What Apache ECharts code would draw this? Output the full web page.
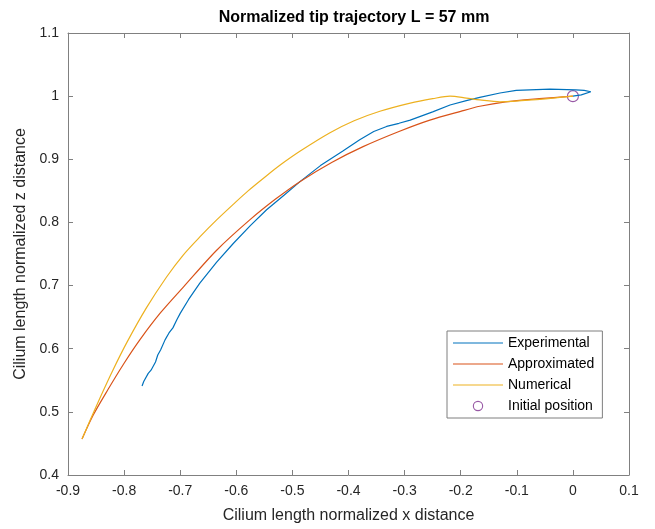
<!DOCTYPE html>
<html>
<head>
<meta charset="utf-8">
<script src="https://cdn.jsdelivr.net/npm/echarts@6/dist/echarts.min.js"></script>
<style>
  html, body { margin: 0; padding: 0; background: #fff; }
  #chart { width: 655px; height: 529px; }
</style>
</head>
<body>
<div id="chart"></div>
<script>
// values, [x, z]
const experimental = [
  [-0.768, 0.541], [-0.765, 0.548], [-0.757, 0.561], [-0.752, 0.566], [-0.744, 0.579],
  [-0.740, 0.590], [-0.735, 0.598], [-0.727, 0.614], [-0.720, 0.625], [-0.713, 0.633],
  [-0.706, 0.646], [-0.700, 0.656], [-0.685, 0.678], [-0.665, 0.704], [-0.635, 0.737],
  [-0.605, 0.767], [-0.575, 0.795], [-0.546, 0.820], [-0.515, 0.843], [-0.486, 0.865],
  [-0.450, 0.890], [-0.410, 0.913], [-0.380, 0.931], [-0.355, 0.944], [-0.332, 0.952],
  [-0.310, 0.957], [-0.290, 0.962], [-0.250, 0.975], [-0.219, 0.986], [-0.190, 0.993],
  [-0.166, 0.998], [-0.130, 1.005], [-0.101, 1.009], [-0.041, 1.011], [0.005, 1.010],
  [0.020, 1.009], [0.032, 1.007], [0.015, 1.002], [0.000, 1.000]
];
const approximated = [
  [-0.875, 0.457], [-0.855, 0.495], [-0.829, 0.535], [-0.800, 0.577], [-0.772, 0.614],
  [-0.735, 0.657], [-0.694, 0.698], [-0.635, 0.756], [-0.576, 0.804], [-0.530, 0.837],
  [-0.486, 0.865], [-0.430, 0.895], [-0.374, 0.920], [-0.310, 0.944], [-0.255, 0.962],
  [-0.200, 0.976], [-0.166, 0.984], [-0.120, 0.991], [-0.060, 0.996], [0.000, 1.000]
];
const numerical = [
  [-0.875, 0.457], [-0.860, 0.488], [-0.841, 0.526], [-0.820, 0.566], [-0.795, 0.610],
  [-0.760, 0.665], [-0.724, 0.714], [-0.695, 0.748], [-0.665, 0.777], [-0.635, 0.804],
  [-0.605, 0.829], [-0.579, 0.850], [-0.546, 0.874], [-0.520, 0.892], [-0.486, 0.913],
  [-0.433, 0.942], [-0.390, 0.961], [-0.344, 0.976], [-0.290, 0.989], [-0.250, 0.996],
  [-0.219, 1.000], [-0.190, 0.997], [-0.166, 0.994], [-0.130, 0.991], [-0.059, 0.995],
  [0.000, 1.000]
];
const initialPosition = [[0, 1]];

const xMin = -0.9, xMax = 0.1, xStep = 0.1;
const yMin = 0.4, yMax = 1.1, yStep = 0.1;

const axisColor = '#808080';
const textColor = '#262626';
const purple = '#7E2F8E';
const font = 'Liberation Sans, Arial, sans-serif';

// legend icons: a thin line for the curves, a small ring for the marker
const lineIcon = 'path://M0,6.4 L50,6.4 L50,7.6 L0,7.6 Z M0,0 L0.01,0 L0,0.01 Z M50,14 L49.99,14 L50,13.99 Z';
const ringIcon = 'path://M1.8,7 A5.2,5.2 0 1 1 12.2,7 A5.2,5.2 0 1 1 1.8,7 Z ' +
  'M2.9,7 A4.1,4.1 0 1 0 11.1,7 A4.1,4.1 0 1 0 2.9,7 Z ' +
  'M0,0 L0.01,0 L0,0.01 Z M14,14 L13.99,14 L14,13.99 Z';

function mainAxis(min, max, step, name, gap, pos) {
  return {
    type: 'value', min: min, max: max, interval: step, position: pos,
    name: name, nameLocation: 'middle', nameGap: gap,
    nameTextStyle: { color: textColor, fontSize: 16, fontFamily: font },
    axisLine: { show: true, onZero: false, lineStyle: { color: axisColor, width: 1 } },
    axisTick: { show: true, inside: true, length: 5, lineStyle: { color: axisColor } },
    axisLabel: { color: textColor, fontSize: 14, fontFamily: font, margin: 9,
      formatter: v => String(Math.round(v * 10) / 10) },
    splitLine: { show: false }
  };
}
function boxAxis(min, max, step, pos) {
  return {
    type: 'value', min: min, max: max, interval: step, position: pos,
    axisLine: { show: true, onZero: false, lineStyle: { color: axisColor, width: 1 } },
    axisTick: { show: true, inside: true, length: 5, lineStyle: { color: axisColor } },
    axisLabel: { show: false },
    splitLine: { show: false }
  };
}

const chart = echarts.init(document.getElementById('chart'), null, { renderer: 'canvas' });
chart.setOption({
  animation: false,
  backgroundColor: '#fff',
  title: {
    text: 'Normalized tip trajectory L = 57 mm',
    left: 349, top: 5, textAlign: 'center',
    textStyle: { color: '#000', fontSize: 16, fontWeight: 'bold', fontFamily: font }
  },
  grid: { left: 68, right: 26, top: 33, bottom: 54 },
  xAxis: [
    mainAxis(xMin, xMax, xStep, 'Cilium length normalized x distance', 33, 'bottom'),
    boxAxis(xMin, xMax, xStep, 'top')
  ],
  yAxis: [
    mainAxis(yMin, yMax, yStep, 'Cilium length normalized z distance', 36, 'left'),
    boxAxis(yMin, yMax, yStep, 'right')
  ],
  legend: {
    orient: 'vertical', left: 447, top: 331,
    backgroundColor: '#fff', borderColor: '#7f7f7f', borderWidth: 1,
    padding: [5, 8, 5, 6], itemWidth: 50, itemHeight: 14, itemGap: 7,
    textStyle: { color: '#000', fontSize: 14, fontFamily: font },
    data: [
      { name: 'Experimental', icon: lineIcon },
      { name: 'Approximated', icon: lineIcon },
      { name: 'Numerical', icon: lineIcon },
      { name: 'Initial position', icon: ringIcon,
        itemStyle: { color: purple, borderWidth: 0, borderColor: 'transparent' } }
    ]
  },
  series: [
    { name: 'Experimental', type: 'line', data: experimental, showSymbol: false, symbol: 'none',
      color: '#0072BD', lineStyle: { width: 1.2 } },
    { name: 'Approximated', type: 'line', data: approximated, showSymbol: false, symbol: 'none',
      smooth: 0.3, color: '#D95319', lineStyle: { width: 1.2 } },
    { name: 'Numerical', type: 'line', data: numerical, showSymbol: false, symbol: 'none',
      smooth: 0.3, color: '#EDB120', lineStyle: { width: 1.2 } },
    { name: 'Initial position', type: 'scatter', data: initialPosition, symbol: 'circle',
      symbolSize: 11, color: purple,
      itemStyle: { color: 'rgba(255,255,255,0)', borderColor: purple, borderWidth: 1.1 } }
  ]
});
</script>
</body>
</html>
